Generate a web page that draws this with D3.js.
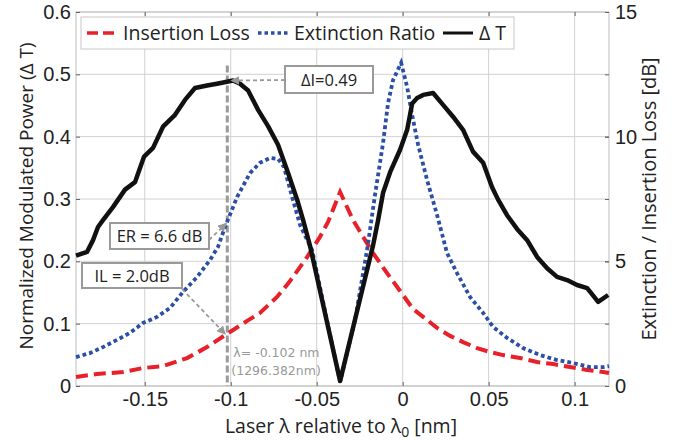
<!DOCTYPE html>
<html lang="en">
<head>
    <meta charset="UTF-8">
    <title>Delta T, Extinction Ratio and Insertion Loss</title>
    <script src="https://d3js.org/d3.v7.min.js"></script>
    <style>
        body { margin: 0; background: #fff; }
        svg { font-family: "Open Sans", "Liberation Sans", sans-serif; }
        .grid line { stroke: #d0d0d0; stroke-width: 1; }
        .axis path { display: none; }
        .axis line { stroke: #666; }
        .axis text { font-size: 20px; fill: #222; }
        .note rect { fill: #fff; stroke: #9a9a9a; stroke-width: 2; }
        .note text { font-size: 16.5px; fill: #222; }
    </style>
</head>
<body>
<script>
    // Delta T (left axis, normalized)
    const dtX = [-0.190, -0.1836, -0.1801, -0.1772, -0.1743, -0.1685, -0.1615, -0.1557, -0.1504, -0.1452,
        -0.1394, -0.1324, -0.1266, -0.1208, -0.1138, -0.1080, -0.1022, -0.0987, -0.0946, -0.0899,
        -0.0841, -0.0783, -0.0725, -0.0667, -0.0614, -0.0579, -0.0539, -0.0364, -0.0172, -0.0143,
        -0.0114, -0.0073, -0.0015, 0.0026, 0.0055, 0.0084, 0.0119, 0.0177, 0.0235, 0.0293,
        0.0351, 0.0409, 0.0468, 0.0520, 0.0555, 0.0607, 0.0665, 0.0724, 0.0782, 0.0840,
        0.0898, 0.0956, 0.1014, 0.1073, 0.1137, 0.1195];
    const dtY = [0.209, 0.215, 0.234, 0.255, 0.266, 0.287, 0.315, 0.327, 0.368, 0.382,
        0.416, 0.435, 0.459, 0.478, 0.482, 0.485, 0.488, 0.490, 0.485, 0.474,
        0.443, 0.417, 0.387, 0.342, 0.299, 0.266, 0.225, 0.008, 0.226, 0.266,
        0.310, 0.343, 0.379, 0.411, 0.453, 0.462, 0.467, 0.470, 0.451, 0.432,
        0.411, 0.376, 0.358, 0.319, 0.299, 0.274, 0.252, 0.234, 0.207, 0.189,
        0.175, 0.170, 0.162, 0.157, 0.135, 0.146];

    // Extinction ratio (right axis, dB)
    const erX = [-0.190, -0.1819, -0.1743, -0.1661, -0.1586, -0.1510, -0.1429, -0.1353, -0.1278, -0.1196,
        -0.1121, -0.1074, -0.1033, -0.0963, -0.0888, -0.0830, -0.0771, -0.0725, -0.0690, -0.0638,
        -0.0597, -0.0556, -0.0527, -0.0364, -0.0277, -0.0207, -0.0190, -0.0161, -0.0114, -0.0085,
        -0.0056, -0.0009, 0.0026, 0.0055, 0.0090, 0.0142, 0.0200, 0.0258, 0.0316, 0.0392,
        0.0468, 0.0526, 0.0607, 0.0700, 0.0799, 0.0898, 0.0991, 0.1090, 0.1166, 0.1200];
    const erY = [1.16, 1.32, 1.56, 1.85, 2.13, 2.53, 2.77, 3.13, 3.77, 4.37,
        5.05, 5.58, 6.38, 7.58, 8.54, 8.95, 9.15, 9.11, 8.78, 7.46,
        6.46, 5.86, 5.46, 0.16, 2.65, 5.46, 6.26, 7.66, 9.75, 11.35,
        12.27, 12.96, 11.99, 10.87, 9.67, 8.26, 6.86, 5.33, 4.53, 3.57,
        2.93, 2.37, 1.93, 1.52, 1.24, 1.04, 0.92, 0.76, 0.76, 0.80];

    // Insertion loss (right axis, dB)
    const ilX = [-0.190, -0.1778, -0.1627, -0.1510, -0.1394, -0.1254, -0.1138, -0.1022, -0.0905, -0.0830,
        -0.0731, -0.0655, -0.0556, -0.0481, -0.0434, -0.0364, -0.0289, -0.0230, -0.0172, -0.0091,
        -0.0015, 0.0060, 0.0119, 0.0200, 0.0276, 0.0351, 0.0433, 0.0508, 0.0584, 0.0683,
        0.0782, 0.0875, 0.0974, 0.1073, 0.1166, 0.1200];
    const ilY = [0.36, 0.48, 0.56, 0.72, 0.80, 1.12, 1.56, 2.09, 2.61, 2.93,
        3.57, 4.21, 5.17, 5.98, 6.58, 7.78, 6.66, 5.98, 5.33, 4.53,
        3.81, 3.09, 2.77, 2.33, 2.01, 1.76, 1.52, 1.36, 1.24, 1.12,
        0.96, 0.88, 0.76, 0.64, 0.56, 0.52];

    const xTicks = [-0.15, -0.1, -0.05, 0, 0.05, 0.1];
    const leftTicks = [0, 0.1, 0.2, 0.3, 0.4, 0.5, 0.6];
    const leftLabels = ["0", "0.1", "0.2", "0.3", "0.4", "0.5", "0.6"];
    const rightTicks = [0, 5, 10, 15];

    const markLambda = -0.102;
    const markDT = 0.49;
    const markER = 6.6;
    const markIL = 2.0;

    const margin = { top: 12, right: 70, bottom: 54, left: 76 };
    const W = 679, H = 440;
    const width = W - margin.left - margin.right;
    const height = H - margin.top - margin.bottom;

    const svg = d3.select("body").append("svg")
        .attr("width", W).attr("height", H);

    const defs = svg.append("defs");
    defs.append("marker")
        .attr("id", "arrow")
        .attr("viewBox", "0 0 10 10")
        .attr("refX", 9).attr("refY", 5)
        .attr("markerWidth", 9).attr("markerHeight", 9)
        .attr("markerUnits", "userSpaceOnUse")
        .attr("orient", "auto")
        .append("path").attr("d", "M0,0L10,5L0,10z").attr("fill", "#999");

    const g = svg.append("g").attr("transform", `translate(${margin.left},${margin.top})`);

    const x = d3.scaleLinear().domain([-0.19, 0.12]).range([0, width]);
    const yL = d3.scaleLinear().domain([0, 0.6]).range([height, 0]);
    const yR = d3.scaleLinear().domain([0, 15]).range([height, 0]);

    // grid
    g.append("g").attr("class", "grid")
        .selectAll("line").data(xTicks).join("line")
        .attr("x1", d => x(d)).attr("x2", d => x(d))
        .attr("y1", 0).attr("y2", height);
    g.append("g").attr("class", "grid")
        .selectAll("line").data(leftTicks).join("line")
        .attr("x1", 0).attr("x2", width)
        .attr("y1", d => yL(d)).attr("y2", d => yL(d));
    g.append("rect")
        .attr("width", width).attr("height", height)
        .attr("fill", "none").attr("stroke", "#bdbdbd");

    // axes (ticks point inward)
    g.append("g").attr("class", "axis")
        .attr("transform", `translate(0,${height})`)
        .call(d3.axisBottom(x).tickValues(xTicks).tickSize(-4).tickPadding(6).tickFormat(d => String(d)));
    g.append("g").attr("class", "axis")
        .call(d3.axisTop(x).tickValues(xTicks).tickSize(-4).tickFormat(""));
    g.append("g").attr("class", "axis")
        .call(d3.axisLeft(yL).tickValues(leftTicks).tickSize(-4).tickPadding(5)
            .tickFormat((d, i) => leftLabels[i]));
    g.append("g").attr("class", "axis")
        .attr("transform", `translate(${width},0)`)
        .call(d3.axisRight(yL).tickValues(leftTicks).tickSize(-4).tickFormat(""));
    g.append("g").attr("class", "axis")
        .attr("transform", `translate(${width},0)`)
        .call(d3.axisRight(yR).tickValues(rightTicks).tickSize(-4).tickPadding(6));

    // series
    const zip = (xs, ys) => xs.map((v, i) => [v, ys[i]]);
    const lineL = d3.line().x(d => x(d[0])).y(d => yL(d[1]));
    const lineR = d3.line().x(d => x(d[0])).y(d => yR(d[1]));

    // vertical marker line
    g.append("line")
        .attr("x1", x(markLambda)).attr("x2", x(markLambda))
        .attr("y1", yL(0.514)).attr("y2", height)
        .attr("stroke", "#9a9a9a").attr("stroke-width", 3)
        .attr("stroke-dasharray", "7,3");

    g.append("path").datum(zip(ilX, ilY))
        .attr("d", lineR).attr("fill", "none")
        .attr("stroke", "#e8202a").attr("stroke-width", 4)
        .attr("stroke-dasharray", "12,6");
    g.append("path").datum(zip(erX, erY))
        .attr("d", lineR).attr("fill", "none")
        .attr("stroke", "#2b4ea6").attr("stroke-width", 3.8)
        .attr("stroke-dasharray", "3.8,3");
    g.append("path").datum(zip(dtX, dtY))
        .attr("d", lineL).attr("fill", "none")
        .attr("stroke", "#111").attr("stroke-width", 4.5)
        .attr("stroke-linejoin", "round");

    // annotation boxes
    function note(text, bx, by, bw, bh) {
        const n = g.append("g").attr("class", "note");
        n.append("rect").attr("x", bx).attr("y", by).attr("width", bw).attr("height", bh);
        n.append("text").attr("x", bx + bw / 2).attr("y", by + bh / 2 + 6)
            .attr("text-anchor", "middle").text(text);
    }
    function arrow(x1, y1, x2, y2) {
        g.append("line")
            .attr("x1", x1).attr("y1", y1).attr("x2", x2).attr("y2", y2)
            .attr("stroke", "#999").attr("stroke-width", 1.8)
            .attr("stroke-dasharray", "4,3")
            .attr("marker-end", "url(#arrow)");
    }

    const px = x(markLambda);
    arrow(209, 68, px + 4, yL(markDT));
    note("ΔI=0.49", 209, 54, 88, 27);

    arrow(133, 228, px - 1, yR(markER) + 2);
    note("ER = 6.6 dB", 34, 211, 99, 26);

    arrow(106, 277, px - 2, yR(markIL) - 2);
    note("IL = 2.0dB", 6, 251, 100, 25);

    g.append("text").attr("x", px + 6).attr("y", 345)
        .attr("font-family", "DejaVu Sans").attr("font-size", 12.5).attr("fill", "#999")
        .text("λ= -0.102 nm");
    g.append("text").attr("x", px + 4).attr("y", 363)
        .attr("font-family", "DejaVu Sans").attr("font-size", 12.5).attr("fill", "#999")
        .text("(1296.382nm)");

    // legend
    const leg = g.append("g").attr("transform", "translate(5,5)");
    leg.append("rect").attr("width", 433).attr("height", 32)
        .attr("fill", "#fff").attr("stroke", "#c8c8c8");
    const items = [
        { label: "Insertion Loss", color: "#e8202a", dash: "11,5", sw: 3.5, x0: 6 },
        { label: "Extinction Ratio", color: "#2b4ea6", dash: "3.5,3", sw: 3.5, x0: 177 },
        { label: "Δ T", color: "#111", dash: null, sw: 3, x0: 362 }
    ];
    items.forEach(it => {
        leg.append("line")
            .attr("x1", it.x0).attr("x2", it.x0 + 30).attr("y1", 16).attr("y2", 16)
            .attr("stroke", it.color).attr("stroke-width", it.sw)
            .attr("stroke-dasharray", it.dash);
        leg.append("text").attr("x", it.x0 + 36).attr("y", 23)
            .attr("font-size", 19.5).attr("fill", "#222").text(it.label);
    });

    // axis titles
    svg.append("text")
        .attr("x", 341).attr("y", 433)
        .attr("text-anchor", "middle").attr("font-size", 19.5).attr("fill", "#222")
        .html("Laser λ relative to λ<tspan dy='4' font-size='14'>0</tspan><tspan dy='-4'> [nm]</tspan>");
    svg.append("text")
        .attr("transform", "translate(33,196) rotate(-90)")
        .attr("text-anchor", "middle").attr("font-size", 19).attr("fill", "#222")
        .text("Normalized Modulated Power (Δ T)");
    svg.append("text")
        .attr("transform", "translate(656,199) rotate(-90)")
        .attr("text-anchor", "middle").attr("font-size", 20).attr("fill", "#222")
        .text("Extinction / Insertion Loss [dB]");
</script>
</body>
</html>
